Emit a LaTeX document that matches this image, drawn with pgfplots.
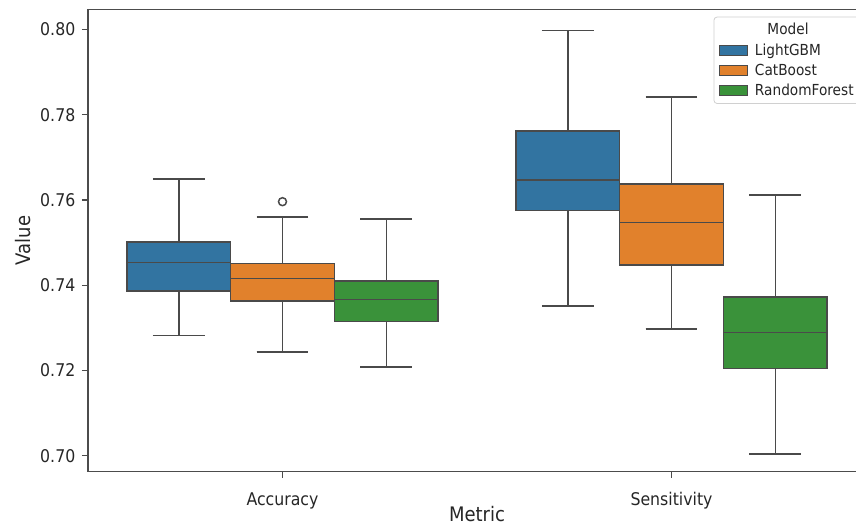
\documentclass[border=0pt]{standalone}
\usepackage{fontspec}
\setmainfont{DejaVu Sans}[FakeStretch=0.9]
\usepackage{pgfplots}
\pgfplotsset{compat=1.18}
\usepgfplotslibrary{statistics}
\definecolor{cblue}{HTML}{3274A1}
\definecolor{corange}{HTML}{E1812C}
\definecolor{cgreen}{HTML}{3A923A}
\definecolor{edge}{HTML}{4A4A4A}
\definecolor{legborder}{HTML}{D0D0D0}
\definecolor{txt}{HTML}{262626}
\begin{document}
\begin{tikzpicture}
\begin{scope}
\clip (0,0) rectangle (856bp,526bp);
\begin{axis}[
  at={(88bp,54.3bp)}, anchor=south west,
  scale only axis, width=778bp, height=462.4bp,
  xmin=-0.5, xmax=1.5, ymin=0.6963, ymax=0.8047,
  xtick={0,1}, xticklabels={Accuracy,Sensitivity},
  ytick={0.70,0.72,0.74,0.76,0.78,0.80},
  /pgf/number format/.cd, fixed, fixed zerofill, precision=2, assume math mode=true, /pgfplots/.cd,
  tick pos=left, tick align=outside, major tick length=6bp,
  tick style={draw=edge, line width=1.1bp},
  axis line style={draw=black!70, line width=1.1bp},
  ticklabel style={font=\fontsize{17.5bp}{20bp}\selectfont, text=txt},
  yticklabel style={anchor=east, inner xsep=0pt, xshift=-6.5bp},
  xticklabel style={anchor=base, inner ysep=0pt, yshift=-27.3bp},
  xlabel={Metric}, ylabel={Value},
  label style={font=\fontsize{20bp}{24bp}\selectfont, text=txt},
  xlabel style={at={(axis description cs:0.5,0)}, anchor=base, inner sep=0pt, yshift=-50bp},
  ylabel style={at={(axis description cs:0,0.5)}, anchor=center, inner sep=0pt, yshift=64.5bp},
  boxplot/draw direction=y,
  boxplot/box extend=0.2667,
  boxplot/whisker extend=0.1333,
  legend image code/.code={\draw[#1, line width=1bp, sharp corners] (0bp,-5bp) rectangle (28bp,5bp);},
  legend cell align=left,
  legend style={at={(rel axis cs:1,1)}, anchor=north east, xshift=-5bp, yshift=-7.4bp,
    draw=legborder, line width=0.8bp, rounded corners=3bp, fill=white,
    font=\fontsize{15.2bp}{18bp}\selectfont, text=txt,
    inner xsep=5bp, inner ysep=4bp, row sep=3.5bp, column sep=5bp},
]
% Accuracy
\addplot[forget plot, fill=cblue, draw=edge, line width=1.5bp,
  boxplot prepared={draw position=-0.2667, lower whisker=0.7282, lower quartile=0.7387, median=0.7454, upper quartile=0.7502, upper whisker=0.7649}] coordinates {};
\addplot[forget plot, fill=corange, draw=edge, line width=1.5bp, mark=o, mark size=4bp, mark options={fill=none, draw=edge, line width=1.5bp, solid},
  boxplot prepared={draw position=0, lower whisker=0.7244, lower quartile=0.7363, median=0.7416, upper quartile=0.7451, upper whisker=0.7560}] table[row sep=\\, y index=0, header=false] {0.7596\\};
\addplot[forget plot, fill=cgreen, draw=edge, line width=1.5bp,
  boxplot prepared={draw position=0.2667, lower whisker=0.7209, lower quartile=0.7315, median=0.7367, upper quartile=0.7410, upper whisker=0.7555}] coordinates {};
% Sensitivity
\addplot[forget plot, fill=cblue, draw=edge, line width=1.5bp,
  boxplot prepared={draw position=0.7333, lower whisker=0.7351, lower quartile=0.7575, median=0.7647, upper quartile=0.7762, upper whisker=0.7997}] coordinates {};
\addplot[forget plot, fill=corange, draw=edge, line width=1.5bp,
  boxplot prepared={draw position=1, lower whisker=0.7298, lower quartile=0.7447, median=0.7547, upper quartile=0.7638, upper whisker=0.7841}] coordinates {};
\addplot[forget plot, fill=cgreen, draw=edge, line width=1.5bp,
  boxplot prepared={draw position=1.2667, lower whisker=0.7005, lower quartile=0.7205, median=0.7289, upper quartile=0.7373, upper whisker=0.7612}] coordinates {};
% legend
\addlegendimage{empty legend}
\addlegendentry{\hspace*{12.5bp}Model}
\addlegendimage{fill=cblue, draw=edge}
\addlegendentry{LightGBM}
\addlegendimage{fill=corange, draw=edge}
\addlegendentry{CatBoost}
\addlegendimage{fill=cgreen, draw=edge}
\addlegendentry{RandomForest}
\end{axis}
\end{scope}
\pgfresetboundingbox
\useasboundingbox (0,0) rectangle (856bp,526bp);
\end{tikzpicture}
\end{document}
